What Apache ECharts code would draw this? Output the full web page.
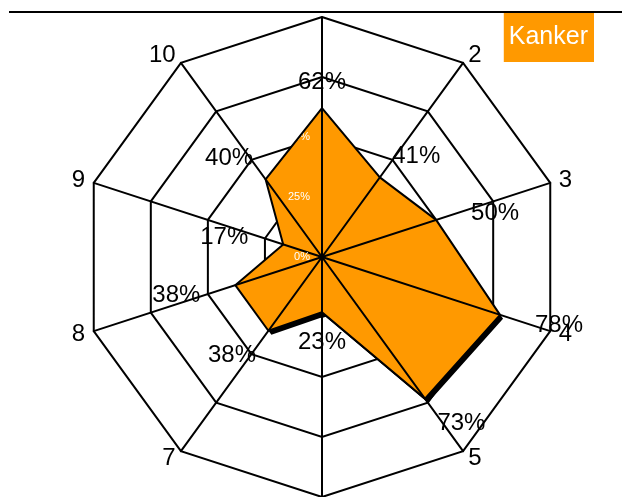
<!DOCTYPE html>
<html lang="en">
<head>
<meta charset="UTF-8">
<title>Kanker</title>
<script src="https://cdn.jsdelivr.net/npm/echarts@6/dist/echarts.min.js"></script>
<style>
    html, body { margin: 0; padding: 0; background: #fff; }
    #main { width: 622px; height: 497px; }
</style>
</head>
<body>
<div id="main"></div>
<script type="text/javascript">
    // data
    var axisNames = ['1', '2', '3', '4', '5', '6', '7', '8', '9', '10'];
    var kanker = [62, 41, 50, 78, 73, 23, 38, 38, 17, 40];
    var seriesName = 'Kanker';
    var axisMax = 100;

    // echarts lays indicators out counter-clockwise; the chart goes clockwise,
    // so keep axis 1 on top and walk the rest backwards
    let n = axisNames.length;
    let order = axisNames.map(function (_, i) {
        return (n - i) % n;
    });
    let names = order.map(function (k) { return axisNames[k]; });
    let values = order.map(function (k) { return kanker[k]; });

    let myChart = echarts.init(document.getElementById('main'));

    let center = [322, 257];

    let backIndicators = names.map(function (nm) {
        return {name: nm, min: 0, max: axisMax};
    });
    // only the first axis carries the (white) scale labels
    let frontIndicators = names.map(function (nm, i) {
        let ind = {name: nm, min: 0, max: axisMax};
        if (i === 0) {
            ind.axisLabel = {show: true, color: '#fff', fontSize: 11, margin: 12, formatter: '{value}%'};
        }
        return ind;
    });

    let radarBase = {
        center: center,
        radius: 240,
        startAngle: 90,
        splitNumber: 4,
        shape: 'polygon'
    };

    // push each value label away from its point, more sideways than up/down
    function pushLabel(p) {
        let px = p.rect.x + p.rect.width / 2 - center[0];
        let py = p.rect.y + p.rect.height / 2 - center[1];
        let a = Math.atan2(px, -py);
        return {dx: Math.sin(a) * 62, dy: -Math.cos(a) * 28 + 2};
    }

    let option = {
        animation: false,
        textStyle: {fontFamily: 'Liberation Sans, Arial, sans-serif'},
        legend: {
            data: [seriesName],
            right: 28,
            top: 13,
            selectedMode: false,
            backgroundColor: '#FF9900',
            padding: [12, 6, 12, 0],
            itemWidth: 0,
            itemHeight: 0,
            textStyle: {color: '#fff', fontSize: 25}
        },
        graphic: [
            {
                type: 'rect',
                z: 100,
                shape: {x: 0, y: 0, width: 622, height: 11},
                style: {fill: '#fff'}
            },
            {
                type: 'line',
                z: 101,
                shape: {x1: 9, y1: 12, x2: 622, y2: 12},
                style: {stroke: '#000', lineWidth: 2}
            }
        ],
        radar: [
            Object.assign({}, radarBase, {
                z: 0,
                indicator: backIndicators,
                nameGap: 9,
                axisName: {color: '#000', fontSize: 24, padding: [5, 0, 0, 0]},
                axisLine: {show: false},
                splitLine: {lineStyle: {color: '#000', width: 2}},
                splitArea: {show: false},
                axisLabel: {show: false}
            }),
            Object.assign({}, radarBase, {
                z: 3,
                indicator: frontIndicators,
                axisName: {show: false},
                axisLine: {lineStyle: {color: '#000', width: 2}},
                splitLine: {show: false},
                splitArea: {show: false},
                axisLabel: {show: false}
            })
        ],
        series: [
            {
                name: seriesName,
                type: 'radar',
                radarIndex: 0,
                z: 2,
                symbol: 'none',
                itemStyle: {color: '#FF9900'},
                lineStyle: {opacity: 0},
                areaStyle: {
                    color: '#FF9900',
                    opacity: 1,
                    shadowColor: '#000',
                    shadowBlur: 0,
                    shadowOffsetX: 3,
                    shadowOffsetY: 4
                },
                data: [{value: values, name: seriesName}]
            },
            {
                // outline + value labels on top of the spokes
                name: 'outline',
                type: 'radar',
                radarIndex: 1,
                z: 4,
                silent: true,
                symbol: 'circle',
                symbolSize: 1,
                itemStyle: {color: 'rgba(0,0,0,0)'},
                lineStyle: {color: '#000', width: 2},
                label: {
                    show: true,
                    position: 'inside',
                    fontSize: 24,
                    color: '#000',
                    formatter: function (p) {
                        return values[p.dimensionIndex] + '%';
                    }
                },
                labelLayout: pushLabel,
                data: [{value: values}]
            }
        ]
    };

    myChart.setOption(option);
</script>
</body>
</html>
